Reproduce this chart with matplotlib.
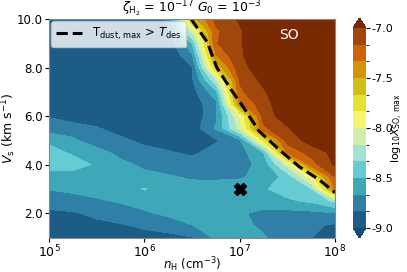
import numpy as np
import matplotlib
matplotlib.use("Agg")
import matplotlib.pyplot as plt
from matplotlib.colors import ListedColormap, BoundaryNorm

# grid: log10 nH (columns) and shock velocity Vs (rows)
log_nH = [5.0, 5.25, 5.5, 5.75, 6.0, 6.25, 6.5, 6.75, 7.0, 7.25, 7.5, 7.75, 8.0]
Vs = [1.0, 1.5, 2.0, 2.5, 3.0, 3.5, 4.0, 4.5, 5.0, 5.5, 6.0, 6.5, 7.0, 7.5, 8.0, 8.5, 9.0, 9.5, 10.0]

# log10 X(SO) max, rows follow Vs (bottom to top)
logX_SO = [
    [-8.93, -8.93, -8.92, -8.91, -8.90, -8.88, -8.84, -8.63, -8.62, -8.65, -8.75, -8.83, -8.90],   # 1.0
    [-8.92, -8.90, -8.87, -8.85, -8.80, -8.76, -8.67, -8.62, -8.62, -8.70, -8.76, -8.80, -8.86],   # 1.5
    [-8.87, -8.85, -8.80, -8.74, -8.69, -8.63, -8.60, -8.58, -8.64, -8.72, -8.72, -8.71, -8.68],   # 2.0
    [-8.75, -8.73, -8.69, -8.65, -8.60, -8.58, -8.57, -8.56, -8.57, -8.56, -8.53, -8.47, -8.30],   # 2.5
    [-8.66, -8.63, -8.60, -8.58, -8.49, -8.58, -8.60, -8.58, -8.56, -8.52, -8.42, -8.35, -7.30],   # 3.0
    [-8.55, -8.56, -8.58, -8.60, -8.62, -8.65, -8.69, -8.70, -8.69, -8.60, -8.45, -7.90, -7.17],   # 3.5
    [-8.45, -8.44, -8.52, -8.62, -8.70, -8.74, -8.77, -8.76, -8.74, -8.60, -8.10, -7.25, -6.98],   # 4.0
    [-8.45, -8.52, -8.60, -8.72, -8.78, -8.82, -8.86, -8.78, -8.74, -8.50, -7.30, -7.10, -6.95],   # 4.5
    [-8.53, -8.64, -8.76, -8.80, -8.87, -8.90, -8.92, -8.85, -8.70, -7.80, -7.10, -6.93, -6.85],   # 5.0
    [-8.75, -8.75, -8.82, -8.90, -8.93, -8.93, -8.93, -8.65, -8.10, -7.20, -7.02, -6.85, -6.80],   # 5.5
    [-8.845, -8.93, -8.93, -8.93, -8.93, -8.93, -8.95, -8.70, -8.00, -7.10, -6.90, -6.80, -6.75],  # 6.0
    [-8.93, -8.95, -8.95, -8.95, -8.95, -8.95, -8.93, -8.72, -7.38, -7.05, -6.90, -6.80, -6.75],   # 6.5
    [-8.95, -8.95, -8.95, -8.95, -8.95, -8.95, -8.90, -8.55, -7.20, -7.02, -6.85, -6.80, -6.75],   # 7.0
    [-8.95, -8.95, -8.95, -8.95, -8.95, -8.95, -8.86, -8.20, -7.15, -6.95, -6.80, -6.75, -6.70],   # 7.5
    [-8.95, -8.95, -8.95, -8.95, -8.95, -8.95, -8.85, -7.65, -7.05, -6.92, -6.80, -6.75, -6.70],   # 8.0
    [-8.95, -8.95, -8.95, -8.95, -8.95, -8.97, -8.70, -7.35, -7.01, -6.95, -6.80, -6.75, -6.70],   # 8.5
    [-8.95, -8.95, -8.95, -8.95, -8.95, -8.95, -8.50, -7.18, -7.02, -6.85, -6.75, -6.70, -6.70],   # 9.0
    [-8.95, -8.95, -8.95, -8.95, -8.95, -8.86, -8.10, -7.20, -7.02, -6.85, -6.75, -6.70, -6.70],   # 9.5
    [-8.95, -8.95, -8.95, -8.95, -8.95, -8.80, -7.60, -7.12, -6.98, -6.80, -6.70, -6.70, -6.70],   # 10.0
]

# dust temperature threshold line
line_log_nH = [6.49, 6.58, 6.66, 6.76, 6.90, 7.05, 7.20, 7.42, 7.63, 7.84, 8.0]
line_Vs = [10.0, 9.5, 9.05, 8.0, 7.15, 6.3, 5.4, 4.6, 3.9, 3.36, 2.85]

# marked model
mark_log_nH = [7.0]
mark_Vs = [3.0]

levels = np.linspace(-9.0, -7.0, 13)
cbar_ticks = [-9.0, -8.5, -8.0, -7.5, -7.0]
x_ticks = [5, 6, 7, 8]
x_ticklabels = [r'$10^{5}$', r'$10^{6}$', r'$10^{7}$', r'$10^{8}$']
y_ticks = [2, 4, 6, 8, 10]

band_colors = ['#1d5c85', '#2f7fa6', '#3ea8b9', '#67cbd3', '#a3e3d4', '#d1efac',
               '#f7f472', '#e4e236', '#d2bd14', '#d39308', '#cc650a', '#a2470a']
cmap = ListedColormap(band_colors)
cmap.set_over('#7a2a02')
cmap.set_under('#174a70')
norm = BoundaryNorm(levels, cmap.N)

fig = plt.figure(figsize=(4.07, 2.72), dpi=100)
ax = fig.add_axes([49/407, 1-237.5/272, (335-49)/407, (237.5-19)/272])
cax = fig.add_axes([353/407, 1-238/272, 13/407, 220/272])

X, Y = np.meshgrid(log_nH, Vs)
cs = ax.contourf(X, Y, np.array(logX_SO), levels=levels, cmap=cmap, norm=norm, extend='both')

ax.plot(line_log_nH, line_Vs, color='black', lw=2.2, ls='--',
        label=r'T$_{\rm dust,\,max}$ > $T_{\rm des}$')
ax.plot(mark_log_nH, mark_Vs, marker='X', color='black', ms=9, ls='none')

ax.set_xlim(5, 8)
ax.set_ylim(1, 10)
ax.set_xticks(x_ticks)
ax.set_xticklabels(x_ticklabels, fontsize=9)
ax.set_yticks(y_ticks)
ax.set_yticklabels([f'{v:.1f}' for v in y_ticks], fontsize=8.5)
ax.tick_params(length=3, pad=1.2)
ax.set_xlabel(r'$n_{\rm H}$ (cm$^{-3}$)', fontsize=8.5, labelpad=-3.5)
ax.set_ylabel(r'$V_{\rm s}$ (km s$^{-1}$)', fontsize=9, labelpad=-0.5)
ax.set_title(r'$\zeta_{\rm H_2}$ = $10^{-17}$ $G_0$ = $10^{-3}$', fontsize=9, pad=3)
ax.text(0.84, 0.925, 'SO', color='white', fontsize=10, transform=ax.transAxes,
        ha='center', va='center')
ax.legend(loc='upper left', fontsize=8.5, handlelength=2.2, borderaxespad=0.2,
          borderpad=0.4, handletextpad=0.8)
for s in ax.spines.values():
    s.set_color('#888888')

cb = fig.colorbar(cs, cax=cax, ticks=cbar_ticks)
cb.ax.set_yticklabels([f'{t:.1f}' for t in cbar_ticks], fontsize=8)
cb.ax.tick_params(length=3, pad=1.2)
cb.set_label(r'log$_{10}X_{\rm SO,\,max}$', fontsize=8, labelpad=-2.5)
cb.outline.set_visible(False)

fig.savefig('out.png', dpi=100)
